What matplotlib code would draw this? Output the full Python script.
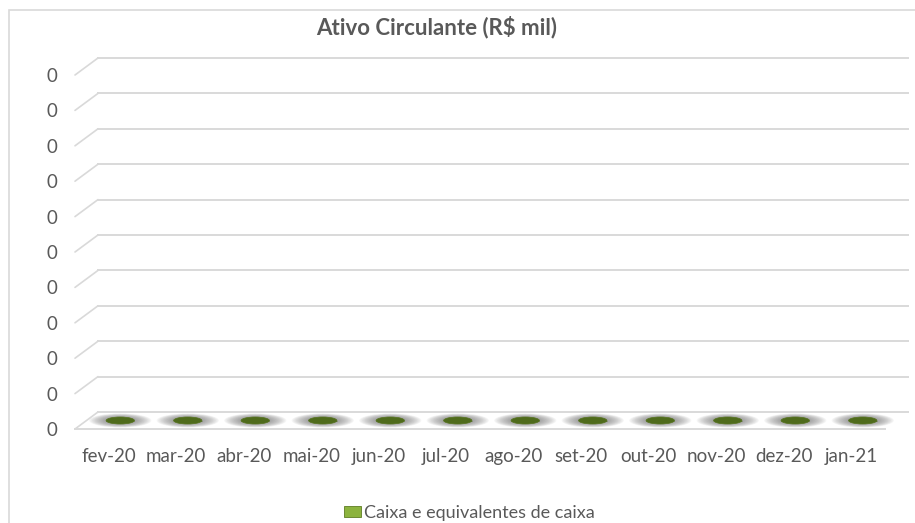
import numpy as np
import matplotlib
matplotlib.use("Agg")
import matplotlib.pyplot as plt
from matplotlib.patches import Ellipse, Rectangle, ConnectionPatch
from matplotlib.transforms import ScaledTranslation
from matplotlib.ticker import StrMethodFormatter

# data (all months are zero)
months = ['fev-20', 'mar-20', 'abr-20', 'mai-20', 'jun-20', 'jul-20',
          'ago-20', 'set-20', 'out-20', 'nov-20', 'dez-20', 'jan-21']
caixa = [0, 0, 0, 0, 0, 0, 0, 0, 0, 0, 0, 0]
yticks = np.arange(0, 0.101, 0.01)
title = 'Ativo Circulante (R$ mil)'
series_name = 'Caixa e equivalentes de caixa'

plt.rcParams['font.family'] = ['Lato', 'DejaVu Sans']
TXT = '#595959'
GRID = '#d9d9d9'

W, H = 915, 523
fig = plt.figure(figsize=(W / 100, H / 100), dpi=100)

# front plane of the 3d box
ax = fig.add_axes([75 / W, (H - 429) / H, 810 / W, 354 / H])
ax.set_xlim(-0.5, len(months) - 0.5)
ax.set_ylim(yticks[0], yticks[-1])
for s in ax.spines.values():
    s.set_visible(False)
ypx = (yticks[-1] - yticks[0]) / 354   # value units per pixel

# depth offsets (px) for back wall and column middle
back = ax.transData + ScaledTranslation(0.23, 0.17, fig.dpi_scale_trans)
mid = ax.transData + ScaledTranslation(0.115, 0.085, fig.dpi_scale_trans)

x = np.arange(len(months))
x0, x1 = ax.get_xlim()

# gridlines on back wall + slanted side segments
for v in yticks:
    ax.plot([x0, x1], [v, v], transform=back, color=GRID, lw=1.4,
            clip_on=False, zorder=1)
    con = ConnectionPatch(xyA=(x0, v), coordsA=ax.transData,
                          xyB=(x0, v), coordsB=back,
                          color=GRID, lw=1.2, zorder=1)
    ax.add_artist(con)
# floor front edge
ax.plot([x0, x1], [0, 0], color=GRID, lw=1.4, clip_on=False, zorder=1)

# zero-height columns
bars = ax.bar(x, caixa, width=0.42, color='#8cb33e', edgecolor='#5d7d22',
              lw=0.6, label=series_name, transform=mid, zorder=2)

for xi, val in zip(x, caixa):
    # soft shadow under the column
    for k in range(12):
        f = 1 - k / 12
        ax.add_patch(Ellipse((xi, val), 0.42 + 0.5 * f, (7 + 7 * f) * ypx,
                             transform=mid, facecolor='#6f6f6f', edgecolor='none',
                             alpha=0.07, zorder=2, clip_on=False))
    ax.add_patch(Ellipse((xi, val), 0.42, 7 * ypx, transform=mid,
                         facecolor='#4f6b1c', edgecolor='#56731f', lw=0.5,
                         zorder=3, clip_on=False))

ax.set_xticks(x)
ax.set_xticklabels(months)
ax.set_yticks(yticks)
ax.yaxis.set_major_formatter(StrMethodFormatter('{x:.0f}'))
ax.tick_params(axis='both', length=0, labelsize=13.5, labelcolor=TXT)
ax.tick_params(axis='y', pad=13)
ax.tick_params(axis='x', pad=14)
ax.set_facecolor('none')

fig.text(437 / W, 1 - 27 / H, title, ha='center', va='center',
         fontsize=16, fontweight='bold', color=TXT)

fig.legend(handles=[bars], labels=[series_name], loc='center',
           bbox_to_anchor=(469 / W, 1 - 513 / H), frameon=False,
           fontsize=13, labelcolor=TXT, handlelength=0.95,
           handleheight=0.55, handletextpad=0.15)

# chart area border
fig.add_artist(Rectangle((9 / W, -0.1), 1.1, 0.1 + (H - 10) / H,
                         transform=fig.transFigure, fill=False,
                         edgecolor=GRID, lw=1.2))

fig.savefig('out.png', dpi=100)
